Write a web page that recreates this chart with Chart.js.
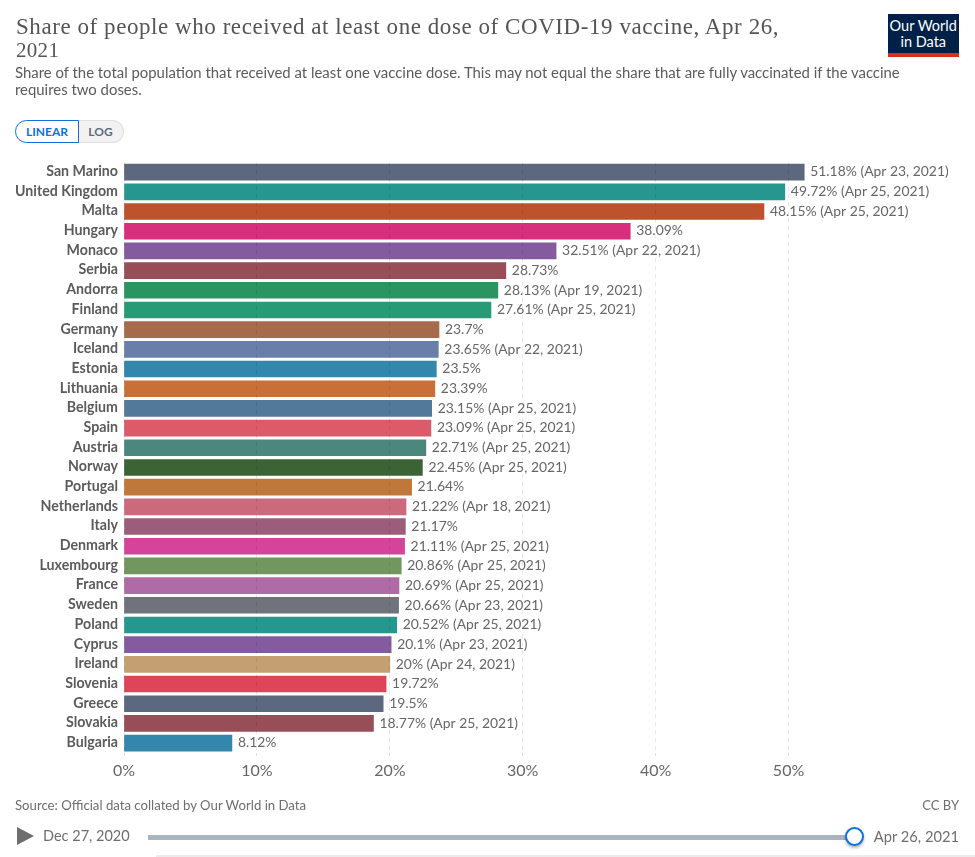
<!DOCTYPE html>
<html><head><meta charset="utf-8">
<script src="https://cdn.jsdelivr.net/npm/chart.js@4"></script>
<style>
html,body{margin:0;padding:0;background:#fff;width:975px;height:857px;overflow:hidden;font-family:Lato,sans-serif}
.t{position:absolute;white-space:nowrap}
#c{position:absolute;left:0;top:0}
</style></head><body>
<canvas id="c" width="975" height="857" style="width:975px;height:857px"></canvas>
<div class="t" style="left:16px;top:13px;font:23px/27px 'Liberation Serif',serif;color:#555;letter-spacing:.56px">Share of people who received at least one dose of COVID-19 vaccine, Apr 26,</div>
<div class="t" style="left:16px;top:37px;font:21px/27px 'Liberation Serif',serif;color:#555;letter-spacing:.3px">2021</div>
<div class="t" style="left:15px;top:63px;font:14.9px/18px Lato,sans-serif;color:#5b5b5b">Share of the total population that received at least one vaccine dose. This may not equal the share that are fully vaccinated if the vaccine</div>
<div class="t" style="left:15px;top:80px;font:14.9px/18px Lato,sans-serif;color:#5b5b5b">requires two doses.</div>
<div class="t" style="left:887.5px;top:14px;width:71.5px;height:43px;background:#002147;overflow:hidden">
 <div style="position:absolute;left:0;right:0;top:4px;text-align:center;color:#fff;font:14.5px/15.5px Lato,sans-serif">Our World<br>in Data</div>
 <div style="position:absolute;left:0;right:0;bottom:0;height:4.5px;background:#dc2e1f"></div>
</div>
<div class="t" style="left:15px;top:119.5px;width:62px;height:21px;border:1.5px solid #0b72e0;border-radius:12px 0 0 12px;text-align:center;font:700 12px/21px Lato,sans-serif;color:#0b72e0;background:#fff">LINEAR</div>
<div class="t" style="left:78.5px;top:119.5px;width:44px;height:21px;border:1.5px solid #dfe0e4;border-left:0;border-radius:0 12px 12px 0;text-align:center;font:700 12px/21px Lato,sans-serif;color:#5b6b80;background:#f2f2f2">LOG</div>
<div class="t" style="left:15px;top:797px;font:13.18px/16px Lato,sans-serif;color:#6e6e6e">Source: Official data collated by Our World in Data</div>
<div class="t" style="right:16px;top:797px;font:13px/16px Lato,sans-serif;color:#6e6e6e">CC BY</div>
<div class="t" style="left:17px;top:827px;width:0;height:0;border-left:17px solid #6e6e6e;border-top:9.5px solid transparent;border-bottom:9.5px solid transparent"></div>
<div class="t" style="left:43px;top:827px;font:14.5px/18px Lato,sans-serif;color:#6e6e6e">Dec 27, 2020</div>
<div class="t" style="left:148px;top:834.5px;width:700px;height:5.5px;background:#aab3c0"></div>
<div class="t" style="left:845px;top:827px;width:15px;height:15px;border:2px solid #0b72e0;border-radius:50%;background:#fff;box-shadow:0 2px 3px rgba(0,0,0,.3)"></div>
<div class="t" style="right:16px;top:827px;font:14.7px/18px Lato,sans-serif;color:#6e6e6e">Apr 26, 2021</div>
<div class="t" style="left:156px;top:855px;width:819px;height:2px;background:#ececec"></div>
<script>
const categories=["San Marino","United Kingdom","Malta","Hungary","Monaco","Serbia","Andorra","Finland","Germany","Iceland","Estonia","Lithuania","Belgium","Spain","Austria","Norway","Portugal","Netherlands","Italy","Denmark","Luxembourg","France","Sweden","Poland","Cyprus","Ireland","Slovenia","Greece","Slovakia","Bulgaria"];
const values=[51.18,49.72,48.15,38.09,32.51,28.73,28.13,27.61,23.7,23.65,23.5,23.39,23.15,23.09,22.71,22.45,21.64,21.22,21.17,21.11,20.86,20.69,20.66,20.52,20.1,20,19.72,19.5,18.77,8.12];
const dates=["Apr 23, 2021","Apr 25, 2021","Apr 25, 2021","","Apr 22, 2021","","Apr 19, 2021","Apr 25, 2021","","Apr 22, 2021","","","Apr 25, 2021","Apr 25, 2021","Apr 25, 2021","Apr 25, 2021","","Apr 18, 2021","","Apr 25, 2021","Apr 25, 2021","Apr 25, 2021","Apr 23, 2021","Apr 25, 2021","Apr 23, 2021","Apr 24, 2021","","","Apr 25, 2021",""];
const colors=["#5b687d","#26978f","#bd532d","#d72f7d","#845b9f","#974e56","#2a9560","#289b76","#a66b4a","#6880a9","#3387ac","#c97038","#53799a","#dd5a69","#4b877c","#3b6335","#bf7839","#cc697d","#9c5d7b","#d6439a","#719660","#af6ba6","#6f737c","#26978f","#845b9f","#c49f72","#dd4559","#5b687d","#974e56","#3387ac"];
const xTicks=[0,10,20,30,40,50];

const valueLabels={id:'valueLabels',afterDraw(ch){
  const {ctx,scales:{x,y}}=ch;
  ctx.save();ctx.font='13.9px Lato, sans-serif';ctx.fillStyle='#666';ctx.textBaseline='middle';ctx.textAlign='left';
  values.forEach((v,i)=>{
    const s=v+'%'+(dates[i]?' ('+dates[i]+')':'');
    ctx.fillText(s,x.getPixelForValue(v)+6,y.getPixelForValue(i)-.2);
  });
  ctx.restore();
}};
new Chart(document.getElementById('c'),{
  type:'bar',
  data:{labels:categories,datasets:[{data:values,backgroundColor:colors,borderWidth:0,barThickness:16,borderSkipped:false}]},
  options:{
    indexAxis:'y',responsive:false,animation:false,devicePixelRatio:1,
    layout:{padding:{top:162.3,right:120,bottom:0,left:0}},
    plugins:{legend:{display:false},tooltip:{enabled:false}},
    scales:{
      x:{type:'linear',min:0,max:55,afterBuildTicks(a){a.ticks=xTicks.map(v=>({value:v}));},
        afterFit(a){a.height=857-752.95;},
        grid:{color:'rgba(0,0,0,.09)',z:1,drawTicks:true,tickLength:3,tickColor:'#dcdcdc',drawOnChartArea:true},
        border:{display:false,dash:[4,4]},
        ticks:{font:{family:'Lato',size:16},color:'#666',padding:5.5,maxRotation:0,autoSkip:false,callback:v=>v+'%'}},
      y:{type:'category',afterFit(a){a.width=124;},grid:{display:false},border:{display:false},
        ticks:{font:{family:'Lato',size:14.2,weight:'700'},color:'#5b5b5b',padding:-2,labelOffset:-.7,autoSkip:false}}
    }
  },
  plugins:[valueLabels]
});
</script>
</body></html>
